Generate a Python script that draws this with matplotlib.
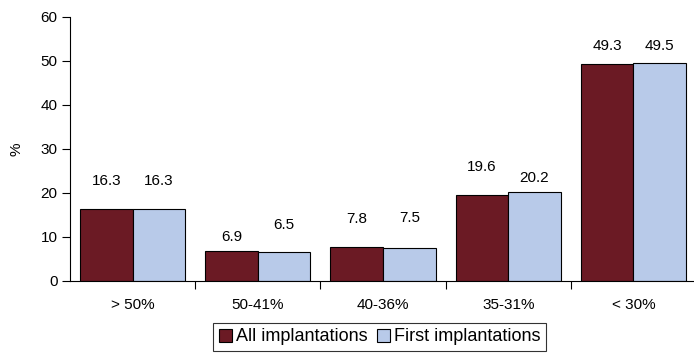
import numpy as np
import matplotlib.pyplot as plt

plt.rcParams['font.family'] = ['Liberation Sans', 'DejaVu Sans']

categories = ['> 50%', '50-41%', '40-36%', '35-31%', '< 30%']
all_impl = [16.3, 6.9, 7.8, 19.6, 49.3]
first_impl = [16.3, 6.5, 7.5, 20.2, 49.5]
# heights where the value labels sit
all_label_y = [22.7, 10.0, 14.1, 25.9, 53.4]
first_label_y = [22.7, 12.7, 14.3, 23.4, 53.4]

dark = '#6b1a24'
light = '#b8cae9'

fig = plt.figure(figsize=(6.94, 3.53), dpi=100)
ax = fig.add_axes([0.1009, 0.204, 0.902, 0.748])

x = np.arange(len(categories))
w = 0.42
ax.bar(x - w / 2, all_impl, w, color=dark, edgecolor='black', linewidth=0.8,
       label='All implantations')
ax.bar(x + w / 2, first_impl, w, color=light, edgecolor='black', linewidth=0.8,
       label='First implantations')

for i in range(len(categories)):
    ax.text(x[i] - w / 2, all_label_y[i], '%.1f' % all_impl[i], ha='center',
            va='center', fontsize=11)
    ax.text(x[i] + w / 2, first_label_y[i], '%.1f' % first_impl[i], ha='center',
            va='center', fontsize=11)

ax.set_xlim(-0.5, 4.5)
ax.set_ylim(0, 60)
ax.set_yticks(range(0, 61, 10))
ax.set_xticks(x)
ax.set_xticklabels(categories, fontsize=11)
ax.set_xticks(np.arange(0.5, 4.5, 1), minor=True)
ax.tick_params(axis='x', which='major', length=0, pad=12)
ax.tick_params(axis='x', which='minor', length=6, width=0.8)
ax.tick_params(axis='y', length=6, width=0.8, labelsize=11, pad=3)
ax.spines['top'].set_visible(False)
ax.spines['right'].set_visible(False)
ax.spines['left'].set_linewidth(0.8)
ax.spines['bottom'].set_linewidth(0.8)
ax.set_ylabel('%', fontsize=11, labelpad=12)

leg = fig.legend(loc='upper center', bbox_to_anchor=(0.547, 0.085), ncol=2,
                 fontsize=13, frameon=True, fancybox=False, handlelength=0.75,
                 handleheight=0.75, handletextpad=0.2, columnspacing=0.5,
                 borderpad=0.3, borderaxespad=0)
leg.get_frame().set_edgecolor('black')
leg.get_frame().set_linewidth(0.8)

fig.savefig('out.png', dpi=100)
